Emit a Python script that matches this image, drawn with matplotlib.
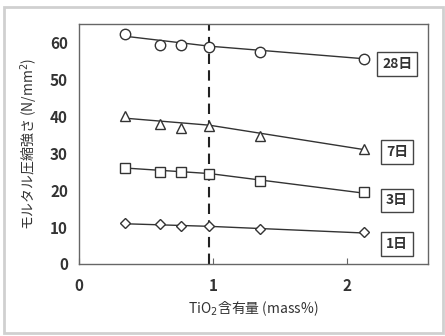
import matplotlib.pyplot as plt
from matplotlib.patches import Rectangle

plt.rcParams['font.family'] = ['Noto Sans CJK JP', 'DejaVu Sans']

# TiO2 content (mass%) and strength (N/mm2) by curing age
tio2 = [0.34, 0.60, 0.76, 0.97, 1.35, 2.12]
day28 = [62.2, 59.3, 59.3, 58.9, 57.4, 55.5]
day7 = [40.1, 37.9, 36.9, 37.5, 34.7, 31.2]
day3 = [25.9, 25.0, 24.9, 24.5, 22.5, 19.4]
day1 = [11.1, 10.8, 10.4, 10.3, 9.5, 8.6]

# fitted trend lines (break at 0.97)
trend_x = [0.34, 0.97, 2.12]
trend28 = [61.7, 59.0, 55.6]
trend7 = [39.5, 37.6, 31.0]
trend3 = [26.0, 24.5, 19.2]
trend1 = [10.9, 10.2, 8.4]

labels = ['28日', '7日', '3日', '1日']
label_y = [54.2, 30.3, 17.2, 5.4]
boundary = 0.97

txt = '#333333'
line_c = '#333333'

fig = plt.figure(figsize=(4.45, 3.36), dpi=100)
ax = fig.add_axes([79 / 445, 1 - 264 / 336, (428 - 79) / 445, (264 - 24) / 336])

series = [(day28, trend28, 'o'), (day7, trend7, '^'), (day3, trend3, 's'), (day1, trend1, 'D')]
sizes = {'o': 7.5, '^': 7.5, 's': 7.5, 'D': 5.5}
for vals, trend, m in series:
    ax.plot(trend_x, trend, color=line_c, lw=1.0, zorder=2)
    ax.plot(tio2, vals, linestyle='none', marker=m, markersize=sizes[m],
            markerfacecolor='white', markeredgecolor=line_c, markeredgewidth=1.0, zorder=3)

ax.axvline(boundary, color='#222222', lw=1.5, ls=(0, (5, 3)), zorder=1)

for lab, y in zip(labels, label_y):
    ax.text(2.37, y, lab, ha='center', va='center', fontsize=10, color=txt, fontweight='bold',
            bbox=dict(boxstyle='square,pad=0.35', facecolor='white', edgecolor='#444444', lw=1.0))

ax.set_xlim(0, 2.6)
ax.set_ylim(0, 65)
ax.set_xticks([0, 1, 2])
ax.set_yticks([0, 10, 20, 30, 40, 50, 60])
ax.tick_params(axis='x', direction='in', length=4, color='#666666', pad=10,
               labelsize=11, labelcolor=txt)
ax.tick_params(axis='y', length=0, pad=8, labelsize=11, labelcolor=txt)
for t in ax.get_xticklabels() + ax.get_yticklabels():
    t.set_fontweight('bold')
for s in ax.spines.values():
    s.set_color('#666666')
    s.set_linewidth(1.0)

ax.set_xlabel('TiO$_2$含有量 (mass%)', fontsize=10, color=txt, labelpad=4)
ax.set_ylabel('モルタル圧縮強さ (N/mm$^2$)', fontsize=10, color=txt, labelpad=7)

fig.patches.append(Rectangle((4 / 445, 3 / 336), 439 / 445, 326 / 336, transform=fig.transFigure,
                             fill=False, edgecolor='#d0d0d0', lw=2))

fig.savefig('out.png', dpi=100)
